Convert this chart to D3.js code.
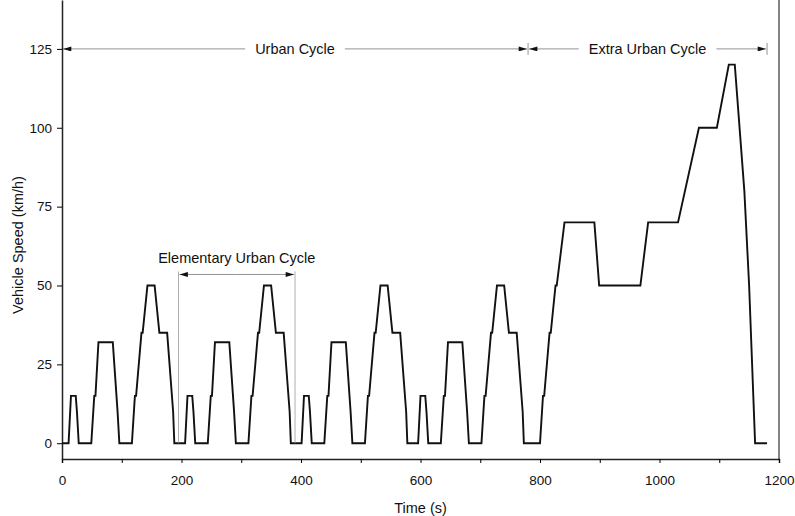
<!DOCTYPE html>
<html>
<head>
<meta charset="utf-8">
<script src="https://cdn.jsdelivr.net/npm/d3@7"></script>
<style>
  body { margin: 0; background: #fff; }
  text { font-family: Arial, "Liberation Sans", sans-serif; fill: #111; }
</style>
</head>
<body>
<div id="chart-area"></div>
<script>
// NEDC speed trace (4 x ECE-15 urban + EUDC)
var times = [
    0, 11, 15, 23, 25, 28, 49, 54, 56, 61, 85, 93, 96, 117, 122, 124, 133, 135, 143, 155, 163, 176, 186, 188,
    195, 206, 210, 218, 220, 223, 244, 249, 251, 256, 280, 288, 291, 312, 317, 319, 328, 330, 338, 350, 358, 371, 381, 383,
    390, 401, 405, 413, 415, 418, 439, 444, 446, 451, 475, 483, 486, 507, 512, 514, 523, 525, 533, 545, 553, 566, 576, 578,
    585, 596, 600, 608, 610, 613, 634, 639, 641, 646, 670, 678, 681, 702, 707, 709, 718, 720, 728, 740, 748, 761, 771, 773,
    780, 800, 805, 807, 816, 818, 826, 828, 841, 891, 899, 968, 981, 1031, 1066, 1096, 1116, 1126, 1142, 1150, 1160, 1180
];
var speeds = [
    0, 0, 15, 15, 10, 0, 0, 15, 15, 32, 32, 10, 0, 0, 15, 15, 35, 35, 50, 50, 35, 35, 10, 0,
    0, 0, 15, 15, 10, 0, 0, 15, 15, 32, 32, 10, 0, 0, 15, 15, 35, 35, 50, 50, 35, 35, 10, 0,
    0, 0, 15, 15, 10, 0, 0, 15, 15, 32, 32, 10, 0, 0, 15, 15, 35, 35, 50, 50, 35, 35, 10, 0,
    0, 0, 15, 15, 10, 0, 0, 15, 15, 32, 32, 10, 0, 0, 15, 15, 35, 35, 50, 50, 35, 35, 10, 0,
    0, 0, 15, 15, 35, 35, 50, 50, 70, 70, 50, 50, 70, 70, 100, 100, 120, 120, 80, 50, 0, 0
];
var xTicks = [0, 200, 400, 600, 800, 1000, 1200];
var xMinorTicks = [100, 300, 500, 700, 900, 1100];
var yTicks = [0, 25, 50, 75, 100, 125];

// phases: [start, end, label, y value of bracket]
var phases = [
    [0, 780, "Urban Cycle", 125],
    [780, 1180, "Extra Urban Cycle", 125]
];
var elementary = [195, 390, "Elementary Urban Cycle", 53.5];

var margin = { left: 62, right: 16, top: 0, bottom: 57 };
var width = 795 - margin.left - margin.right,
    height = 516 - margin.top - margin.bottom;

var svg = d3.select("#chart-area")
    .append("svg")
        .attr("width", 795)
        .attr("height", 516);

var g = svg.append("g")
    .attr("transform", "translate(" + margin.left + ", " + margin.top + ")");

var data = times.map(function(t, i){ return { t: t, v: speeds[i] }; });

var x = d3.scaleLinear()
    .domain([0, 1200])
    .range([0, width]);

var y = d3.scaleLinear()
    .domain([-5, 140.5])
    .range([height, 0]);

// arrowhead markers
var defs = svg.append("defs");
defs.append("marker")
    .attr("id", "arrow")
    .attr("viewBox", "0 0 10 6")
    .attr("refX", 10)
    .attr("refY", 3)
    .attr("markerWidth", 9)
    .attr("markerHeight", 5)
    .attr("markerUnits", "userSpaceOnUse")
    .attr("orient", "auto")
    .append("path")
        .attr("d", "M0,0 L10,3 L0,6 Z")
        .attr("fill", "#111");

// right frame line
g.append("line")
    .attr("x1", width).attr("x2", width)
    .attr("y1", 0).attr("y2", height)
    .attr("stroke", "#333")
    .attr("stroke-width", 1.2);

// X axis
var xAxisCall = d3.axisBottom(x)
    .tickValues(xTicks)
    .tickSize(4)
    .tickPadding(12)
    .tickFormat(d3.format("d"));
var xAxis = g.append("g")
    .attr("class", "x axis")
    .attr("transform", "translate(0, " + height + ")")
    .call(xAxisCall);
xAxis.select(".domain").attr("stroke", "#222").attr("stroke-width", 1.5);
xAxis.selectAll("text").attr("font-size", "13.5px");

g.append("g")
    .attr("transform", "translate(0, " + height + ")")
    .call(d3.axisBottom(x).tickValues(xMinorTicks).tickSize(4).tickFormat(""))
    .select(".domain").remove();

// Y axis
var yAxisCall = d3.axisLeft(y)
    .tickValues(yTicks)
    .tickSize(5)
    .tickPadding(5)
    .tickSizeOuter(0);
var yAxis = g.append("g")
    .attr("class", "y axis")
    .call(yAxisCall);
yAxis.select(".domain").attr("stroke", "#222").attr("stroke-width", 1.5);
yAxis.selectAll("text").attr("font-size", "13.5px");

// labels
g.append("text")
    .attr("x", width / 2)
    .attr("y", height + 54)
    .attr("font-size", "14.5px")
    .attr("text-anchor", "middle")
    .text("Time (s)");

g.append("text")
    .attr("x", -245)
    .attr("y", -39)
    .attr("font-size", "14.5px")
    .attr("text-anchor", "middle")
    .attr("transform", "rotate(-90)")
    .text("Vehicle Speed (km/h)");

// speed trace
var line = d3.line()
    .x(function(d){ return x(d.t); })
    .y(function(d){ return y(d.v); });

g.append("path")
    .datum(data)
    .attr("d", line)
    .attr("fill", "none")
    .attr("stroke", "#111")
    .attr("stroke-width", 1.9)
    .attr("stroke-linejoin", "miter");

// bracket with label and arrows pointing outwards
function bracket(t0, t1, label, v, gapPad) {
    var yy = y(v);
    var xm = (x(t0) + x(t1)) / 2;
    var txt = g.append("text")
        .attr("x", xm)
        .attr("y", yy + 5)
        .attr("font-size", "14.5px")
        .attr("text-anchor", "middle")
        .text(label);
    var w = txt.node().getComputedTextLength();
    g.append("line")
        .attr("x1", xm - w / 2 - gapPad).attr("x2", x(t0) + 1)
        .attr("y1", yy).attr("y2", yy)
        .attr("stroke", "#777").attr("stroke-width", 0.8)
        .attr("marker-end", "url(#arrow)");
    g.append("line")
        .attr("x1", xm + w / 2 + gapPad).attr("x2", x(t1) - 1)
        .attr("y1", yy).attr("y2", yy)
        .attr("stroke", "#777").attr("stroke-width", 0.8)
        .attr("marker-end", "url(#arrow)");
}

phases.forEach(function(p){ bracket(p[0], p[1], p[2], p[3], 10); });

// end ticks for the extra urban bracket
[780, 1180].forEach(function(t){
    g.append("line")
        .attr("x1", x(t)).attr("x2", x(t))
        .attr("y1", y(125) - 6).attr("y2", y(125) + 6)
        .attr("stroke", "#777").attr("stroke-width", 0.8);
});

// elementary urban cycle
var ey = y(elementary[3]);
[elementary[0], elementary[1]].forEach(function(t){
    g.append("line")
        .attr("x1", x(t)).attr("x2", x(t))
        .attr("y1", ey - 3).attr("y2", y(0))
        .attr("stroke", "#999").attr("stroke-width", 0.8);
});
var em = (x(elementary[0]) + x(elementary[1])) / 2;
g.append("line")
    .attr("x1", em).attr("x2", x(elementary[0]) + 1)
    .attr("y1", ey).attr("y2", ey)
    .attr("stroke", "#777").attr("stroke-width", 0.8)
    .attr("marker-end", "url(#arrow)");
g.append("line")
    .attr("x1", em).attr("x2", x(elementary[1]) - 1)
    .attr("y1", ey).attr("y2", ey)
    .attr("stroke", "#777").attr("stroke-width", 0.8)
    .attr("marker-end", "url(#arrow)");
g.append("text")
    .attr("x", em)
    .attr("y", ey - 11)
    .attr("font-size", "14.5px")
    .attr("text-anchor", "middle")
    .text(elementary[2]);
</script>
</body>
</html>
